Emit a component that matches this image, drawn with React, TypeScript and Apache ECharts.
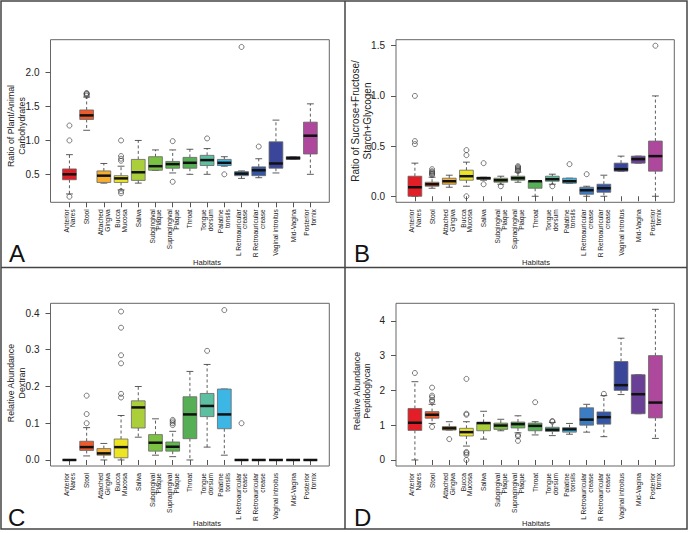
import React, { useEffect, useRef } from 'react';
import * as echarts from 'echarts';

const categories = [
  'Anterior\nNares', 'Stool', 'Attached\nGingiva', 'Bucca\nMucosa', 'Saliva',
  'Subgingival\nPlaque', 'Supragingival\nPlaque', 'Throat', 'Tongue\ndorsum', 'Palatine\ntonsils',
  'L Retroauricular\ncrease', 'R Retroauricular\ncrease', 'Vaginal introitus', 'Mid-Vagina', 'Posterior\nfornix',
];

const colors = [
  '#E31E26', '#EE5B2B', '#F6AE2D', '#EDE523', '#AACF3B', '#7CC242', '#60B74D', '#56AF55',
  '#5CBFA0', '#3CB6E4', '#3C7CC2', '#3456A6', '#3A469A', '#6A3F96', '#AE489D',
];

// [lower whisker, Q1, median, Q3, upper whisker]
const statsA = [
  [0.21, 0.42, 0.50, 0.58, 0.79], [1.15, 1.31, 1.37, 1.45, 1.64], [0.37, 0.38, 0.48, 0.55, 0.66],
  [0.27, 0.38, 0.44, 0.48, 0.62], [0.37, 0.41, 0.53, 0.72, 1.0], [0.56, 0.56, 0.62, 0.76, 0.86],
  [0.52, 0.59, 0.65, 0.69, 0.86], [0.50, 0.59, 0.67, 0.75, 0.87], [0.50, 0.63, 0.71, 0.78, 0.88],
  [0.62, 0.63, 0.67, 0.72, 0.76], [0.44, 0.48, 0.51, 0.54, 0.55], [0.45, 0.48, 0.56, 0.61, 0.73],
  [0.52, 0.59, 0.66, 0.98, 1.30], [0.72, 0.72, 0.74, 0.76, 0.76], [0.50, 0.80, 1.07, 1.27, 1.54],
];
const outliersA = [
  [0, 1.22], [0, 1.0], [0, 0.17], [1, 1.66], [1, 1.68], [1, 1.70], [1, 1.69],
  [3, 1.0], [3, 0.77], [3, 0.73], [3, 0.70], [3, 0.25], [3, 0.22],
  [6, 0.99], [6, 0.39], [8, 1.03], [9, 0.50], [10, 2.38], [11, 0.91],
];

const statsB = [
  [0.0, 0.0, 0.09, 0.2, 0.33], [0.08, 0.10, 0.12, 0.14, 0.19], [0.09, 0.12, 0.15, 0.18, 0.21],
  [0.10, 0.16, 0.20, 0.26, 0.34], [0.16, 0.17, 0.18, 0.19, 0.19], [0.12, 0.14, 0.16, 0.18, 0.20],
  [0.14, 0.16, 0.18, 0.20, 0.24], [0.0, 0.08, 0.15, 0.15, 0.15], [0.12, 0.15, 0.17, 0.20, 0.22],
  [0.13, 0.13, 0.15, 0.18, 0.18], [0.0, 0.02, 0.06, 0.09, 0.10], [0.0, 0.04, 0.08, 0.12, 0.21],
  [0.25, 0.25, 0.27, 0.33, 0.40], [0.33, 0.33, 0.37, 0.40, 0.40], [0.0, 0.25, 0.40, 0.55, 1.0],
];
const outliersB = [
  [0, 1.0], [0, 0.55], [0, 0.52], [1, 0.21], [1, 0.22], [1, 0.23], [1, 0.24], [1, 0.25], [1, 0.27],
  [3, 0.41], [3, 0.46], [3, 0.0], [4, 0.33], [4, 0.12], [5, 0.10],
  [6, 0.25], [6, 0.26], [6, 0.27], [6, 0.28], [6, 0.29], [6, 0.30],
  [8, 0.10], [9, 0.32], [10, 0.22], [14, 1.5],
];

const statsC = [
  [0, 0, 0, 0, 0], [0.011, 0.026, 0.035, 0.051, 0.088], [0.0, 0.013, 0.018, 0.031, 0.045],
  [0.0, 0.006, 0.035, 0.057, 0.121], [0.062, 0.087, 0.143, 0.161, 0.2], [0.013, 0.024, 0.047, 0.069, 0.112],
  [0.009, 0.024, 0.036, 0.049, 0.078], [0.0, 0.058, 0.124, 0.172, 0.241], [0.035, 0.118, 0.147, 0.181, 0.26],
  [0.013, 0.085, 0.124, 0.193, 0.193], [0, 0, 0, 0, 0], [0, 0, 0, 0, 0],
  [0, 0, 0, 0, 0], [0, 0, 0, 0, 0], [0, 0, 0, 0, 0],
];
const outliersC = [
  [1, 0.175], [1, 0.125], [1, 0.1], [3, 0.404], [3, 0.36], [3, 0.285], [3, 0.263], [3, 0.18], [3, 0.17],
  [6, 0.095], [6, 0.1], [6, 0.105], [6, 0.109], [8, 0.297], [9, 0.408], [10, 0.1],
];

const statsD = [
  [0.0, 0.85, 1.07, 1.48, 2.25], [1.05, 1.2, 1.3, 1.39, 1.6], [0.86, 0.86, 0.91, 0.96, 1.1],
  [0.4, 0.69, 0.8, 0.91, 1.1], [0.6, 0.84, 1.06, 1.08, 1.4], [0.84, 0.88, 0.99, 1.06, 1.17],
  [0.78, 0.92, 1.03, 1.09, 1.27], [0.72, 0.84, 0.98, 1.06, 1.1], [0.7, 0.82, 0.87, 0.94, 1.08],
  [0.74, 0.8, 0.88, 0.93, 1.05], [0.8, 1.0, 1.16, 1.5, 1.6], [0.67, 1.03, 1.23, 1.38, 1.85],
  [1.88, 2.0, 2.15, 2.83, 3.5], [1.33, 1.33, 1.89, 2.45, 2.45], [0.62, 1.21, 1.65, 3.0, 4.33],
];
const outliersD = [
  [0, 2.5], [1, 2.08], [1, 1.85], [1, 1.8], [1, 1.72], [1, 1.68], [1, 0.95], [2, 0.6],
  [3, 2.33], [3, 1.33], [3, 1.3], [3, 0.23], [3, 0.2], [3, 0.15], [3, 0.0],
  [6, 0.72], [6, 0.68], [6, 0.55], [7, 1.66], [8, 1.12], [8, 1.1], [11, 1.9],
];

const ticksA = [0.5, 1.0, 1.5, 2.0];
const ticksB = [0.0, 0.5, 1.0, 1.5];
const ticksC = [0.0, 0.1, 0.2, 0.3, 0.4];
const ticksD = [0, 1, 2, 3, 4];

const titleA = ['Ratio of Plant/Animal', 'Carbohydrates'];
const titleB = ['Ratio of Sucrose+Fructose/', 'Starch+Glycogen'];
const titleC = ['Relative Abundance', 'Dextran'];
const titleD = ['Relative Abundance', 'Peptidoglycan'];
const xTitle = 'Habitats';
const letters = ['A', 'B', 'C', 'D'];

const FONT = '"Liberation Sans", Arial, Helvetica, sans-serif';

export default function App() {
  const ref = useRef<HTMLDivElement>(null);
  useEffect(() => {
    const chart = echarts.init(ref.current!, null, { renderer: 'svg' });

    const panels = [
      { frame: [50.5, 39.7, 329.3, 202.3], range: [0.087, 2.487], ticks: ticksA, digits: 1, stats: statsA, out: outliersA, title: titleA, titleXY: [16.5, 126], titleSize: 8.8, titleGap: 10.6, habX: 207, habY: 262, letterXY: [9, 265] },
      { frame: [396, 39.7, 674.3, 202.3], range: [-0.06, 1.56], ticks: ticksB, digits: 1, stats: statsB, out: outliersB, title: titleB, titleXY: [361, 121], titleSize: 10, titleGap: 12, habX: 536, habY: 262, letterXY: [354, 265] },
      { frame: [50.5, 303.3, 329.3, 466], range: [-0.0164, 0.4264], ticks: ticksC, digits: 1, stats: statsC, out: outliersC, title: titleC, titleXY: [16.5, 383], titleSize: 8.8, titleGap: 10.6, habX: 207, habY: 523, letterXY: [8, 529] },
      { frame: [396, 303.3, 674.3, 466], range: [-0.173, 4.503], ticks: ticksD, digits: 0, stats: statsD, out: outliersD, title: titleD, titleXY: [362, 391], titleSize: 8.8, titleGap: 10.6, habX: 536, habY: 523, letterXY: [354, 529] },
    ];

    const grids: any[] = [];
    const xAxes: any[] = [];
    const yAxes: any[] = [];
    const series: any[] = [];
    const graphics: any[] = [];

    panels.forEach((p, i) => {
      const [fl, ft, fr, fb] = p.frame;
      const unit = (fr - fl) / 16.2;
      const gl = fl + 0.6 * unit;
      const gr = fr - 0.6 * unit;
      grids.push({ left: gl, top: ft, width: gr - gl, height: fb - ft, containLabel: false });
      xAxes.push({
        type: 'category', gridIndex: i, data: categories,
        axisLine: { show: false },
        axisTick: { show: true, alignWithLabel: true, length: 5, lineStyle: { color: '#555', width: 1 } },
        axisLabel: { interval: 0, rotate: 90, fontSize: 6.6, lineHeight: 6.8, margin: 7, color: '#222', fontFamily: FONT },
        splitLine: { show: false },
      });
      yAxes.push({
        type: 'value', gridIndex: i, min: p.range[0], max: p.range[1], offset: gl - fl,
        axisLine: { show: false },
        axisTick: { show: true, length: 5, customValues: p.ticks, lineStyle: { color: '#555', width: 1 } },
        axisLabel: { customValues: p.ticks, formatter: (v: number) => v.toFixed(p.digits), fontSize: 10, margin: 11, color: '#222', fontFamily: FONT },
        splitLine: { show: false },
      });
      series.push({
        type: 'custom', xAxisIndex: i, yAxisIndex: i,
        encode: { x: 0, y: [1, 2, 3, 4, 5] },
        data: p.stats.map((s, k) => [k, ...s]),
        renderItem: (params: any, api: any) => {
          const k = api.value(0);
          const band = api.size([1, 0])[0];
          const cx = api.coord([k, 0])[0];
          const y = (d: number) => api.coord([k, api.value(d)])[1];
          const lo = y(1), q1 = y(2), med = y(3), q3 = y(4), hi = y(5);
          const bw = band * 0.8, sw = band * 0.4;
          const whisk = { stroke: '#333', lineWidth: 0.8, lineDash: [3, 2.5] };
          const stap = { stroke: '#333', lineWidth: 0.8 };
          return {
            type: 'group',
            children: [
              { type: 'line', shape: { x1: cx, y1: q3, x2: cx, y2: hi }, style: whisk },
              { type: 'line', shape: { x1: cx, y1: q1, x2: cx, y2: lo }, style: whisk },
              { type: 'line', shape: { x1: cx - sw / 2, y1: hi, x2: cx + sw / 2, y2: hi }, style: stap },
              { type: 'line', shape: { x1: cx - sw / 2, y1: lo, x2: cx + sw / 2, y2: lo }, style: stap },
              { type: 'rect', shape: { x: cx - bw / 2, y: q3, width: bw, height: q1 - q3 }, style: { fill: colors[params.dataIndex], stroke: '#666', lineWidth: 0.8 } },
              { type: 'line', shape: { x1: cx - bw / 2, y1: med, x2: cx + bw / 2, y2: med }, style: { stroke: '#111', lineWidth: 2.5 } },
            ],
          };
        },
      });
      series.push({
        type: 'scatter', xAxisIndex: i, yAxisIndex: i, data: p.out,
        symbol: 'circle', symbolSize: 5,
        itemStyle: { color: 'transparent', borderColor: '#333', borderWidth: 0.8 },
        z: 5,
      });
      graphics.push({ type: 'rect', shape: { x: fl, y: ft, width: fr - fl, height: fb - ft }, style: { fill: 'none', stroke: '#666', lineWidth: 1 }, silent: true });
      p.title.forEach((line, j) => {
        graphics.push({ type: 'text', x: p.titleXY[0] + (j - 0.5) * p.titleGap, y: p.titleXY[1], rotation: Math.PI / 2, style: { text: line, fontSize: p.titleSize, fontFamily: FONT, align: 'center', verticalAlign: 'middle', fill: '#222' } });
      });
      graphics.push({ type: 'text', x: p.habX, y: p.habY, style: { text: xTitle, fontSize: 7.6, fontFamily: FONT, align: 'center', verticalAlign: 'middle', fill: '#222' } });
      graphics.push({ type: 'text', x: p.letterXY[0], y: p.letterXY[1], style: { text: letters[i], fontSize: 24, fontFamily: FONT, align: 'left', verticalAlign: 'bottom', fill: '#111' } });
    });

    graphics.push({ type: 'rect', shape: { x: 1, y: 1, width: 686, height: 528 }, style: { fill: 'none', stroke: '#444', lineWidth: 1.5 } });
    graphics.push({ type: 'line', shape: { x1: 345, y1: 1, x2: 345, y2: 529 }, style: { stroke: '#444', lineWidth: 1.5 } });
    graphics.push({ type: 'line', shape: { x1: 1, y1: 267.5, x2: 687, y2: 267.5 }, style: { stroke: '#444', lineWidth: 1.5 } });

    chart.setOption({
      animation: false,
      backgroundColor: '#fff',
      grid: grids,
      xAxis: xAxes,
      yAxis: yAxes,
      series,
      graphic: graphics,
    });
    return () => chart.dispose();
  }, []);
  return <div ref={ref} style={{ position: 'absolute', left: 0, top: 0, width: 690, height: 533 }} />;
}
